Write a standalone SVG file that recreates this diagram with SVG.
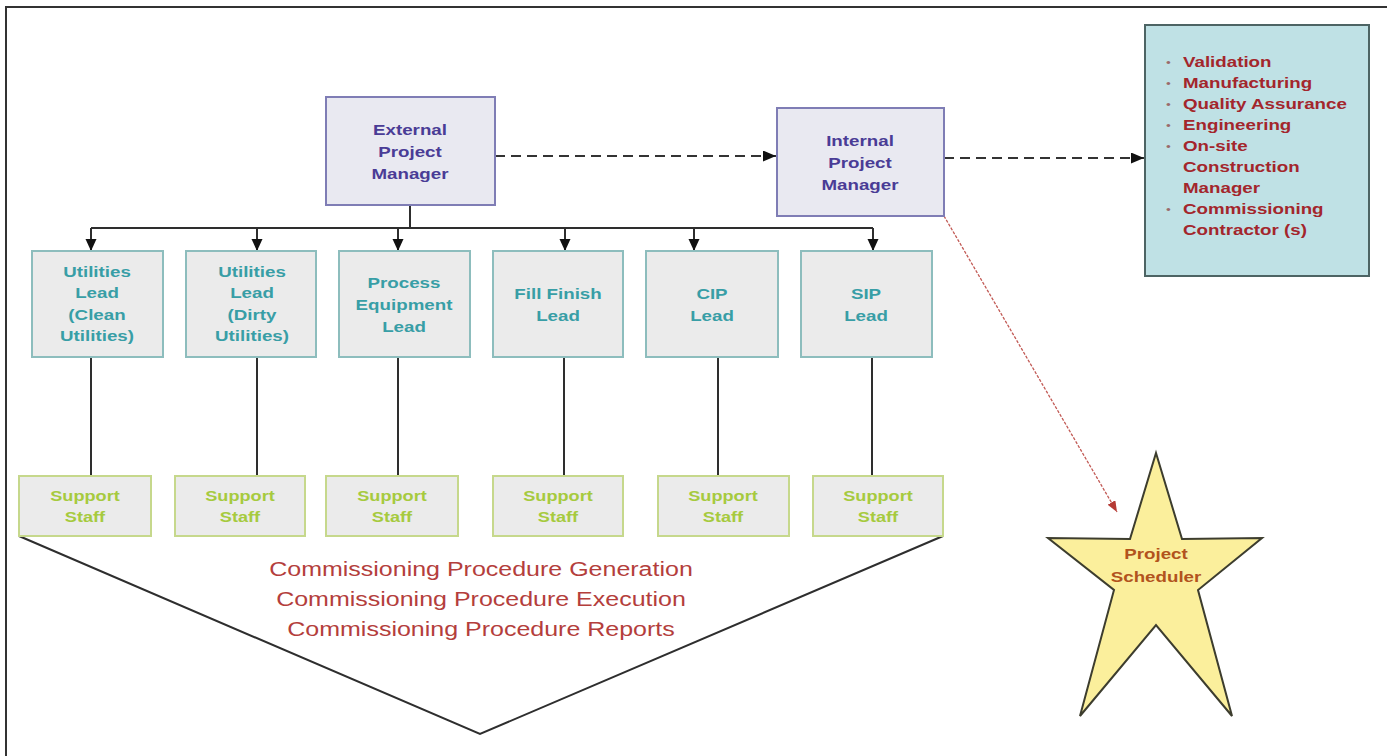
<svg xmlns="http://www.w3.org/2000/svg" width="1387" height="756" viewBox="0 0 1387 756">
  <defs>
    <style>
      .lbl { font-family: "Liberation Sans", Arial, sans-serif; font-weight: bold; font-size: 15px; text-anchor: middle; }
      .mgr rect { fill: #e9e9f1; stroke: #7f7db5; stroke-width: 2; }
      .mgr text { fill: #4a3c96; }
      .lead rect { fill: #ebebeb; stroke: #8dbdbd; stroke-width: 2; }
      .lead text { fill: #389ea6; }
      .staff rect { fill: #ebebeb; stroke: #c6d88c; stroke-width: 2; }
      .staff text { fill: #a6ca3e; font-size: 14.5px; }
      .wire { fill: none; stroke: #2e2e2e; stroke-width: 2; }
      .dash { fill: none; stroke: #333; stroke-width: 2; stroke-dasharray: 10 6; }
      .dotted { fill: none; stroke: #c25a55; stroke-width: 1.3; stroke-dasharray: 3 1.5; }
      .proc { font-family: "Liberation Sans", Arial, sans-serif; font-size: 20px; fill: #b43e3c; text-anchor: middle; }
      .list { font-family: "Liberation Sans", Arial, sans-serif; font-weight: bold; font-size: 15px; fill: #a3262c; }
      .bullet { font-family: "Liberation Sans", Arial, sans-serif; font-size: 11px; fill: #9a6a6a; }
    </style>
    <marker id="headDown" markerUnits="userSpaceOnUse" markerWidth="12" markerHeight="12" viewBox="0 0 12 11" refX="12" refY="5.5" orient="auto">
      <path d="M0,0 L12,5.5 L0,11 Z" fill="#111"/>
    </marker>
    <marker id="headRight" markerUnits="userSpaceOnUse" markerWidth="13" markerHeight="11" viewBox="0 0 13 11" refX="13" refY="5.5" orient="auto">
      <path d="M0,0 L13,5.5 L0,11 Z" fill="#111"/>
    </marker>
    <marker id="headRed" markerUnits="userSpaceOnUse" markerWidth="11" markerHeight="9" viewBox="0 0 11 9" refX="11" refY="4.5" orient="auto">
      <path d="M0,0 L11,4.5 L0,9 Z" fill="#b53a34"/>
    </marker>
  </defs>

  <rect x="0" y="0" width="1387" height="756" fill="#ffffff"/>
  <!-- page frame -->
  <path d="M6,756 V7 H1387" fill="none" stroke="#333" stroke-width="2"/>

  <!-- connectors -->
  <g id="connectors">
    <line class="dash" x1="495" y1="156" x2="776" y2="156" marker-end="url(#headRight)"/>
    <line class="dash" x1="944" y1="158" x2="1144" y2="158" marker-end="url(#headRight)"/>
    <line class="dotted" x1="944" y1="216" x2="1117" y2="512" marker-end="url(#headRed)"/>
    <path class="wire" d="M410,205 V228 M91,228 H873"/>
    <line class="wire" x1="91" y1="228" x2="91" y2="251" marker-end="url(#headDown)"/>
    <line class="wire" x1="257" y1="228" x2="257" y2="251" marker-end="url(#headDown)"/>
    <line class="wire" x1="398" y1="228" x2="398" y2="251" marker-end="url(#headDown)"/>
    <line class="wire" x1="565" y1="228" x2="565" y2="251" marker-end="url(#headDown)"/>
    <line class="wire" x1="694" y1="228" x2="694" y2="251" marker-end="url(#headDown)"/>
    <line class="wire" x1="873" y1="228" x2="873" y2="251" marker-end="url(#headDown)"/>
    <path class="wire" d="M91,357 V476 M257,357 V476 M398,357 V476 M564,357 V476 M718,357 V476 M872,357 V476"/>
    <polyline class="wire" points="19,536 480,734 943,536"/>
  </g>

  <!-- managers -->
  <g id="external-pm" class="mgr">
    <rect x="326" y="97" width="169" height="108"/>
    <text class="lbl" transform="matrix(1.25 0 0 1 410 0)"><tspan x="0" y="135">External</tspan><tspan x="0" y="157">Project</tspan><tspan x="0" y="179">Manager</tspan></text>
  </g>
  <g id="internal-pm" class="mgr">
    <rect x="777" y="108" width="167" height="108"/>
    <text class="lbl" transform="matrix(1.25 0 0 1 860 0)"><tspan x="0" y="146">Internal</tspan><tspan x="0" y="168">Project</tspan><tspan x="0" y="190">Manager</tspan></text>
  </g>

  <!-- stakeholder list -->
  <g id="stakeholders">
    <rect x="1145" y="25" width="224" height="251" fill="#bfe1e5" stroke="#4d6464" stroke-width="2"/>
    <g transform="matrix(1.25 0 0 1 1166 0)">
      <text class="bullet" x="0" y="66">•</text>
      <text class="bullet" x="0" y="87">•</text>
      <text class="bullet" x="0" y="108">•</text>
      <text class="bullet" x="0" y="129">•</text>
      <text class="bullet" x="0" y="150">•</text>
      <text class="bullet" x="0" y="213">•</text>
    </g>
    <text class="list" transform="matrix(1.25 0 0 1 1183 0)"><tspan x="0" y="67">Validation</tspan><tspan x="0" y="88">Manufacturing</tspan><tspan x="0" y="109">Quality Assurance</tspan><tspan x="0" y="130">Engineering</tspan><tspan x="0" y="151">On-site</tspan><tspan x="0" y="172">Construction</tspan><tspan x="0" y="193">Manager</tspan><tspan x="0" y="214">Commissioning</tspan><tspan x="0" y="235">Contractor (s)</tspan></text>
  </g>

  <!-- leads -->
  <g id="lead-clean" class="lead">
    <rect x="32" y="251" width="131" height="106"/>
    <text class="lbl" transform="matrix(1.25 0 0 1 97 0)"><tspan x="0" y="277">Utilities</tspan><tspan x="0" y="298.5">Lead</tspan><tspan x="0" y="320">(Clean</tspan><tspan x="0" y="341.5">Utilities)</tspan></text>
  </g>
  <g id="lead-dirty" class="lead">
    <rect x="186" y="251" width="130" height="106"/>
    <text class="lbl" transform="matrix(1.25 0 0 1 252 0)"><tspan x="0" y="277">Utilities</tspan><tspan x="0" y="298.5">Lead</tspan><tspan x="0" y="320">(Dirty</tspan><tspan x="0" y="341.5">Utilities)</tspan></text>
  </g>
  <g id="lead-process" class="lead">
    <rect x="339" y="251" width="131" height="106"/>
    <text class="lbl" transform="matrix(1.25 0 0 1 404 0)"><tspan x="0" y="288">Process</tspan><tspan x="0" y="310">Equipment</tspan><tspan x="0" y="332">Lead</tspan></text>
  </g>
  <g id="lead-fill" class="lead">
    <rect x="493" y="251" width="130" height="106"/>
    <text class="lbl" transform="matrix(1.25 0 0 1 558 0)"><tspan x="0" y="299">Fill  Finish</tspan><tspan x="0" y="321">Lead</tspan></text>
  </g>
  <g id="lead-cip" class="lead">
    <rect x="646" y="251" width="132" height="106"/>
    <text class="lbl" transform="matrix(1.25 0 0 1 712 0)"><tspan x="0" y="299">CIP</tspan><tspan x="0" y="321">Lead</tspan></text>
  </g>
  <g id="lead-sip" class="lead">
    <rect x="801" y="251" width="131" height="106"/>
    <text class="lbl" transform="matrix(1.25 0 0 1 866 0)"><tspan x="0" y="299">SIP</tspan><tspan x="0" y="321">Lead</tspan></text>
  </g>

  <!-- support staff -->
  <g id="staff-1" class="staff">
    <rect x="19" y="476" width="132" height="60"/>
    <text class="lbl" transform="matrix(1.25 0 0 1 85 0)"><tspan x="0" y="501">Support</tspan><tspan x="0" y="522">Staff</tspan></text>
  </g>
  <g id="staff-2" class="staff">
    <rect x="175" y="476" width="130" height="60"/>
    <text class="lbl" transform="matrix(1.25 0 0 1 240 0)"><tspan x="0" y="501">Support</tspan><tspan x="0" y="522">Staff</tspan></text>
  </g>
  <g id="staff-3" class="staff">
    <rect x="326" y="476" width="132" height="60"/>
    <text class="lbl" transform="matrix(1.25 0 0 1 392 0)"><tspan x="0" y="501">Support</tspan><tspan x="0" y="522">Staff</tspan></text>
  </g>
  <g id="staff-4" class="staff">
    <rect x="493" y="476" width="130" height="60"/>
    <text class="lbl" transform="matrix(1.25 0 0 1 558 0)"><tspan x="0" y="501">Support</tspan><tspan x="0" y="522">Staff</tspan></text>
  </g>
  <g id="staff-5" class="staff">
    <rect x="658" y="476" width="131" height="60"/>
    <text class="lbl" transform="matrix(1.25 0 0 1 723 0)"><tspan x="0" y="501">Support</tspan><tspan x="0" y="522">Staff</tspan></text>
  </g>
  <g id="staff-6" class="staff">
    <rect x="813" y="476" width="130" height="60"/>
    <text class="lbl" transform="matrix(1.25 0 0 1 878 0)"><tspan x="0" y="501">Support</tspan><tspan x="0" y="522">Staff</tspan></text>
  </g>

  <!-- procedure activities -->
  <g id="procedures">
    <text class="proc" transform="matrix(1.25 0 0 1 481 0)"><tspan x="0" y="576">Commissioning Procedure Generation</tspan><tspan x="0" y="606">Commissioning Procedure Execution</tspan><tspan x="0" y="636">Commissioning Procedure Reports</tspan></text>
  </g>

  <!-- scheduler -->
  <g id="project-scheduler">
    <polygon points="1156,453 1182,539 1262,538 1198,590 1232,716 1156,625 1080,716 1114,590 1048,538 1130,539" fill="#fbef9c" stroke="#3d3d2e" stroke-width="2" stroke-linejoin="miter"/>
    <text class="lbl" font-size="14.5" fill="#b2531d" transform="matrix(1.25 0 0 1 1156 0)"><tspan x="0" y="559">Project</tspan><tspan x="0" y="582">Scheduler</tspan></text>
  </g>
</svg>
